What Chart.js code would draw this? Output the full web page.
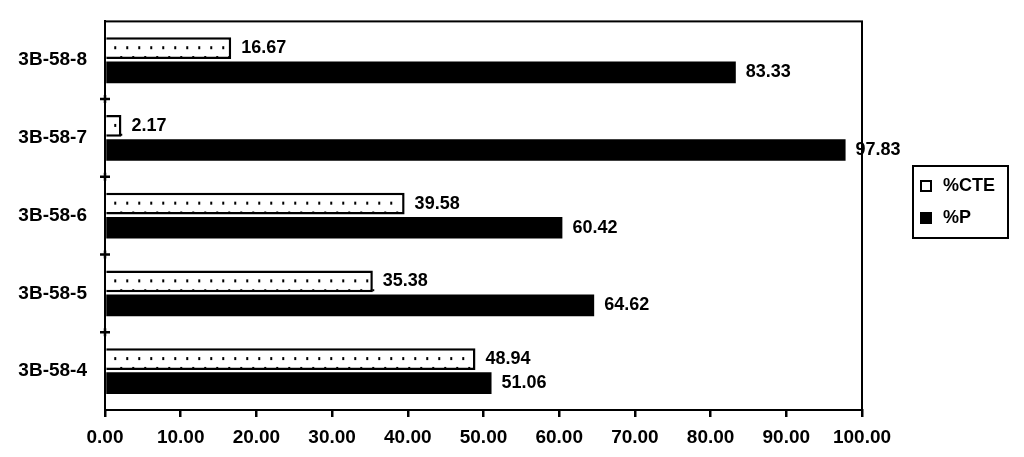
<!DOCTYPE html>
<html>
<head>
<meta charset="utf-8">
<script src="https://cdn.jsdelivr.net/npm/chart.js@4/dist/chart.umd.min.js"></script>
<style>
  html, body { margin: 0; padding: 0; background: #fff; }
  #wrap { width: 1024px; height: 457px; }
</style>
</head>
<body>
<div id="wrap"><canvas id="c" width="1024" height="457"></canvas></div>
<script>
// samples, top to bottom
const samples = ['3B-58-8', '3B-58-7', '3B-58-6', '3B-58-5', '3B-58-4'];
const pctCTE = [16.67, 2.17, 39.58, 35.38, 48.94];
const pctP = [83.33, 97.83, 60.42, 64.62, 51.06];
const seriesNames = ['%CTE', '%P'];

const FONT = '"Liberation Sans", Arial, sans-serif';

// frame around plot, dots in the CTE bars, value labels, legend box
const decor = {
  id: 'decor',
  afterDatasetsDraw(chart) {
    const ctx = chart.ctx;
    const a = chart.chartArea;
    ctx.save();

    // dotted fill of the hollow bars
    chart.getDatasetMeta(0).data.forEach(bar => {
      const top = bar.y - bar.height / 2;
      ctx.fillStyle = '#000';
      for (let x = bar.base + 8; x < bar.x - 4; x += 12) {
        ctx.fillRect(x, top + bar.height / 2 - 2, 2, 3);
        ctx.fillRect(x + 6, bar.y + bar.height / 2 - 3, 2, 2);
      }
    });

    // value labels
    ctx.font = 'bold 18px ' + FONT;
    ctx.fillStyle = '#000';
    ctx.textBaseline = 'middle';
    ctx.textAlign = 'left';
    chart.data.datasets.forEach((ds, i) => {
      chart.getDatasetMeta(i).data.forEach((bar, j) => {
        ctx.fillText(ds.data[j].toFixed(2), bar.x + 10, bar.y);
      });
    });

    // plot frame
    ctx.strokeStyle = '#000';
    ctx.lineWidth = 2;
    ctx.strokeRect(a.left, a.top, a.right - a.left, a.bottom - a.top);

    // cross ticks on the category axis
    const n = samples.length;
    const step = (a.bottom - a.top) / n;
    ctx.lineWidth = 2.5;
    for (let k = 1; k < n; k++) {
      const y = a.top + k * step;
      ctx.beginPath();
      ctx.moveTo(a.left - 5, y);
      ctx.lineTo(a.left + 5, y);
      ctx.moveTo(a.left, y - 4);
      ctx.lineTo(a.left, y + 4);
      ctx.stroke();
    }

    // legend
    const lx = 913, ly = 166, lw = 95, lh = 72;
    ctx.lineWidth = 2;
    ctx.strokeRect(lx, ly, lw, lh);
    ctx.font = 'bold 18px ' + FONT;
    const rows = [ly + 20, ly + 52];
    // hollow box
    ctx.fillStyle = '#fff';
    ctx.fillRect(lx + 8, rows[0] - 5, 10, 10);
    ctx.strokeRect(lx + 8, rows[0] - 5, 10, 10);
    // filled box
    ctx.fillStyle = '#000';
    ctx.fillRect(lx + 7, rows[1] - 6, 12, 12);
    ctx.fillText(seriesNames[0], lx + 30, rows[0]);
    ctx.fillText(seriesNames[1], lx + 30, rows[1]);

    ctx.restore();
  }
};

new Chart(document.getElementById('c'), {
  type: 'bar',
  data: {
    labels: samples,
    datasets: [
      { label: seriesNames[0], data: pctCTE, backgroundColor: '#fff', borderColor: '#000', borderWidth: 2.5,
        categoryPercentage: 0.62, barPercentage: 0.9 },
      { label: seriesNames[1], data: pctP, backgroundColor: '#000', borderColor: '#000', borderWidth: 0,
        categoryPercentage: 0.62, barPercentage: 0.9 },
    ]
  },
  options: {
    indexAxis: 'y',
    responsive: false,
    animation: false,
    layout: { padding: { top: 16, right: 162, left: 0, bottom: 0 } },
    plugins: { legend: { display: false }, tooltip: { enabled: false } },
    scales: {
      x: {
        min: 0, max: 100,
        ticks: { stepSize: 10, color: '#000', padding: 9, font: { family: FONT, size: 19, weight: 'bold' },
          callback: v => v.toFixed(2) },
        grid: { drawOnChartArea: false, color: '#000', lineWidth: 2.5, tickLength: 7 },
        border: { color: '#000', width: 2 },
        afterFit(s) { s.height = 47; }
      },
      y: {
        ticks: { color: '#000', padding: 10, font: { family: FONT, size: 19, weight: 'bold' } },
        grid: { display: false },
        border: { color: '#000', width: 2 },
        afterFit(s) { s.width = 105; }
      }
    }
  },
  plugins: [decor]
});
</script>
</body>
</html>
